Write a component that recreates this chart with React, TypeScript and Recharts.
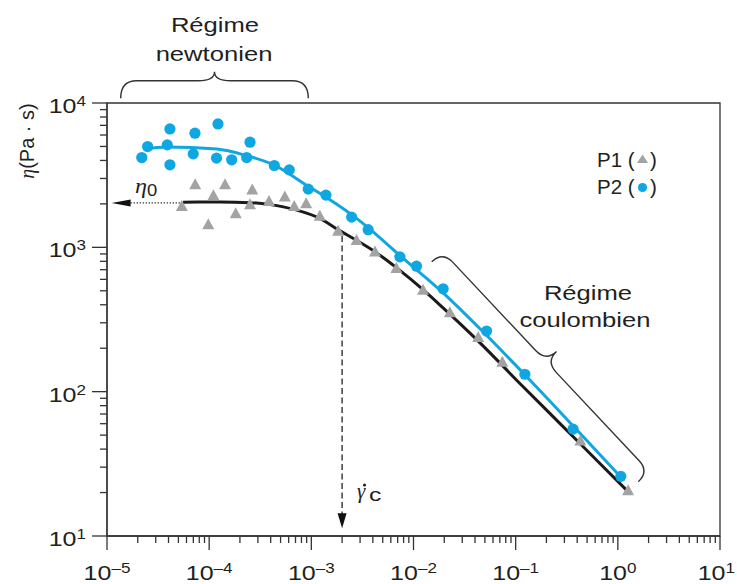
import {
  ComposedChart,
  Line,
  Scatter,
  XAxis,
  YAxis,
  ReferenceArea,
  ReferenceLine,
  ReferenceDot,
} from 'recharts'

// shear rate (s^-1) and viscosity (Pa·s)
const p1Rate = [
  5.4e-5, 7.3e-5, 1.1e-4, 9.8e-5, 1.43e-4, 1.82e-4, 2.64e-4, 2.51e-4, 3.85e-4, 5.5e-4, 6.8e-4, 8.9e-4,
  1.21e-3, 1.83e-3, 2.77e-3, 4.2e-3, 6.8e-3, 1.24e-2, 2.27e-2, 4.3e-2, 7.4e-2, 0.43, 1.26,
]
const p1Visc = [
  1920, 2710, 2280, 1435, 2710, 1710, 2500, 1970, 2080, 2230, 1920, 2005, 1640, 1290, 1117, 929, 713,
  505, 352, 237, 160, 45.6, 20.6,
]
const p2Rate = [
  2.19e-5, 2.5e-5, 4.13e-5, 3.89e-5, 4.13e-5, 7.26e-5, 6.98e-5, 1.22e-4, 1.18e-4, 1.66e-4, 2.51e-4,
  2.33e-4, 4.34e-4, 6.08e-4, 9.33e-4, 1.39e-3, 2.48e-3, 3.6e-3, 7.36e-3, 1.07e-2, 1.95e-2, 5.19e-2,
  0.123, 0.365, 1.07,
]
const p2Visc = [
  4190, 4990, 6610, 5130, 3730, 6180, 4440, 7160, 4150, 4040, 5350, 4190, 3690, 3440, 2530, 2300, 1620,
  1325, 859, 740, 516, 263, 132, 55, 25.9,
]

// fitted curves, traced point by point
const fitP1Rate = [
  5.55e-5, 1.28e-4, 2.51e-4, 3.94e-4, 6.92e-4, 1.22e-3, 1.82e-3, 2.8e-3, 4.4e-3, 6.9e-3, 1.24e-2, 1.82e-2,
  4.48e-2, 0.11, 0.272, 0.668, 1.26,
]
const fitP1Visc = [2056, 2061, 2040, 1977, 1824, 1581, 1327, 1113, 911, 718, 509, 398, 218, 114, 60.1, 31.8, 20.3]
const fitP2Rate = [
  2.27e-5, 3.84e-5, 1.19e-4, 2.33e-4, 4.25e-4, 9.33e-4, 1.52e-3, 2.48e-3, 3.69e-3, 7.38e-3, 1.96e-2,
  4.82e-2, 0.123, 0.366, 1.07,
]
const fitP2Visc = [4800, 4957, 4800, 4315, 3739, 2645, 2140, 1685, 1348, 876, 482, 259, 131, 57.8, 25.6]

const eta0 = 2030
const gammaC = 2e-3

const xMajor = [1e-5, 1e-4, 1e-3, 1e-2, 1e-1, 1, 10]
const xExp = ['–5', '–4', '–3', '–2', '–1', '0', '1']
const yMajor = [10, 100, 1000, 10000]
const yExp = ['1', '2', '3', '4']
const minorSteps = [2, 3, 4, 5, 6, 7, 8, 9]

const xTicks = [...xMajor, ...xMajor.slice(0, -1).flatMap((d) => minorSteps.map((m) => m * d))]
const yTicks = [...yMajor, ...yMajor.slice(0, -1).flatMap((d) => minorSteps.map((m) => m * d))]

const toPoints = (xs: number[], ys: number[]) => xs.map((x, i) => ({ x, y: ys[i] }))
const p1 = toPoints(p1Rate, p1Visc)
const p2 = toPoints(p2Rate, p2Visc)
const fitP1 = toPoints(fitP1Rate, fitP1Visc)
const fitP2 = toPoints(fitP2Rate, fitP2Visc)

const SANS = '"Liberation Sans", Arial, sans-serif'
const SERIF = '"Liberation Serif", "Times New Roman", serif'
const INK = '#231f20'
const AXIS = '#333'
const BLUE = '#0ea7e2'
const GREY = '#a3a3a3'

const majorIndex = (list: number[], v: number) => list.findIndex((m) => Math.abs(v / m - 1) < 1e-6)

// the original lettering is noticeably wider than Arial, so stretch it a bit
function Wide({ x, y, anchor = 'middle', size = 20.5, sx = 1.25, children }: any) {
  return (
    <g transform={`translate(${x},${y}) scale(${sx},1)`}>
      <text textAnchor={anchor} fontFamily={SANS} fontSize={size} fill={INK}>
        {children}
      </text>
    </g>
  )
}

function Pow({ x, y, exp, anchor }: any) {
  return (
    <Wide x={x} y={y} anchor={anchor} sx={1.22}>
      10
      <tspan fontSize={14} dy={-7}>
        {exp}
      </tspan>
    </Wide>
  )
}

function XTick({ x, y, payload }: any) {
  const i = majorIndex(xMajor, payload.value)
  // the last label would spill past the right edge, so pin it to the edge
  const last = i === xMajor.length - 1
  return (
    <g>
      <line x1={x} x2={x} y1={y} y2={y + (i >= 0 ? 14 : 7)} stroke={AXIS} strokeWidth={1.3} />
      {i >= 0 && (
        <Pow x={last ? 735 : x} y={y + 44} exp={xExp[i]} anchor={last ? 'end' : 'middle'} />
      )}
    </g>
  )
}

function YTick({ x, y, payload }: any) {
  const i = majorIndex(yMajor, payload.value)
  return (
    <g>
      <line x1={x - (i >= 0 ? 15 : 7)} x2={x} y1={y} y2={y} stroke={AXIS} strokeWidth={1.3} />
      {i >= 0 && <Pow x={x - 21} y={y + 10} exp={yExp[i]} anchor="end" />}
    </g>
  )
}

const Triangle = (p: any) => (
  <polygon points={`${p.cx},${p.cy - 6.5} ${p.cx + 6},${p.cy + 4.5} ${p.cx - 6},${p.cy + 4.5}`} fill={GREY} />
)
const Circle = (p: any) => <circle cx={p.cx} cy={p.cy} r={5.6} fill={BLUE} />

const LeftArrow = (p: any) => (
  <polygon points={`${p.cx},${p.cy} ${p.cx + 19},${p.cy - 3.5} ${p.cx + 19},${p.cy + 3.5}`} fill="#111" />
)
const DownArrow = (p: any) => (
  <polygon points={`${p.cx},${p.cy} ${p.cx - 4.5},${p.cy - 15} ${p.cx + 4.5},${p.cy - 15}`} fill="#111" />
)

// curly brace along the x axis of a local frame, bulging towards -y
function bracePath(len: number, h: number, tip: number) {
  const m = len / 2
  const r = Math.min(h, 16)
  return [
    `M0,0 Q0,${-h} ${r},${-h}`,
    `L${m - r},${-h} Q${m},${-h} ${m},${-tip}`,
    `Q${m},${-h} ${m + r},${-h}`,
    `L${len - r},${-h} Q${len},${-h} ${len},0`,
  ].join(' ')
}

export default function App() {
  return (
    <div style={{ position: 'absolute', left: 0, top: 0, width: 737, height: 584, background: '#fff' }}>
      <ComposedChart width={737} height={584} margin={{ top: 103, right: 17, bottom: 0, left: 0 }}>
        <XAxis
          dataKey="x"
          type="number"
          scale="log"
          domain={[1e-5, 10]}
          allowDataOverflow
          ticks={xTicks}
          interval={0}
          tick={(p: any) => <XTick {...p} />}
          tickLine={false}
          tickSize={0}
          tickMargin={0}
          height={48}
          axisLine={{ stroke: AXIS, strokeWidth: 1.3 }}
        />
        <YAxis
          dataKey="y"
          type="number"
          scale="log"
          domain={[10, 10000]}
          allowDataOverflow
          ticks={yTicks}
          interval={0}
          tick={(p: any) => <YTick {...p} />}
          tickLine={false}
          tickSize={0}
          tickMargin={0}
          width={107}
          axisLine={{ stroke: AXIS, strokeWidth: 1.3 }}
        />
        <ReferenceArea x1={1e-5} x2={10} y1={10} y2={10000} fill="none" stroke={AXIS} strokeWidth={1.3} />
        <ReferenceLine
          segment={[
            { x: 1.7e-5, y: eta0 },
            { x: 5.5e-5, y: eta0 },
          ]}
          stroke="#444"
          strokeWidth={1.3}
          strokeDasharray="1.5 1.5"
        />
        <ReferenceDot x={1.11e-5} y={eta0} shape={LeftArrow} />
        <ReferenceLine
          segment={[
            { x: gammaC, y: 1200 },
            { x: gammaC, y: 14 },
          ]}
          stroke="#222"
          strokeWidth={1.3}
          strokeDasharray="6 3.5"
        />
        <ReferenceDot x={gammaC} y={11.3} shape={DownArrow} />
        <Line data={fitP1} dataKey="y" type="monotone" stroke="#1a1a1a" strokeWidth={3} dot={false} isAnimationActive={false} />
        <Line data={fitP2} dataKey="y" type="monotone" stroke={BLUE} strokeWidth={3} dot={false} isAnimationActive={false} />
        <Scatter data={p1} shape={Triangle} isAnimationActive={false} />
        <Scatter data={p2} shape={Circle} isAnimationActive={false} />
      </ComposedChart>

      <svg width={737} height={584} style={{ position: 'absolute', left: 0, top: 0, pointerEvents: 'none' }}>
        {/* y axis title */}
        <g transform="translate(33.5,141) rotate(-90)">
          <text textAnchor="middle" fontFamily={SANS} fontSize={20} fill={INK}>
            <tspan fontFamily={SERIF} fontStyle="italic">
              η
            </tspan>
            (Pa · s)
          </text>
        </g>

        {/* Newtonian plateau */}
        <Wide x={215} y={32}>Régime</Wide>
        <Wide x={214} y={61}>newtonien</Wide>
        <g transform="translate(120.7,98.3)">
          <path d={bracePath(187.6, 17.5, 26.5)} fill="none" stroke={AXIS} strokeWidth={1.4} />
        </g>

        {/* power-law region */}
        <Wide x={588} y={300}>Régime</Wide>
        <Wide x={585} y={326.5}>coulombien</Wide>
        <g transform="translate(431.7,261.7) rotate(46.8)">
          <path d={bracePath(301.8, 15, 29.5)} fill="none" stroke={AXIS} strokeWidth={1.4} />
        </g>

        {/* eta_0 */}
        <g transform="translate(135,192.5) scale(1.15,1)">
          <text fontFamily={SERIF} fontSize={21} fontStyle="italic" fill={INK}>
            η
            <tspan fontFamily={SANS} fontStyle="normal" fontSize={16} dy={3}>
              0
            </tspan>
          </text>
        </g>

        {/* critical shear rate */}
        <text x={357} y={498} fontFamily={SERIF} fontSize={21} fontStyle="italic" fill={INK}>
          γ
        </text>
        <circle cx={364.5} cy={485} r={1.6} fill={INK} />
        <Wide x={369} y={501} anchor="start" size={19} sx={1.3}>
          c
        </Wide>

        {/* legend */}
        <text x={597} y={166.5} fontFamily={SANS} fontSize={20.5} fill={INK}>
          P1 (
        </text>
        <polygon points="642.5,154.5 648,163 637,163" fill={GREY} />
        <text x={650} y={166.5} fontFamily={SANS} fontSize={20.5} fill={INK}>
          )
        </text>
        <text x={597} y={193.5} fontFamily={SANS} fontSize={20.5} fill={INK}>
          P2 (
        </text>
        <circle cx={642.5} cy={187.5} r={4.6} fill={BLUE} />
        <text x={650} y={193.5} fontFamily={SANS} fontSize={20.5} fill={INK}>
          )
        </text>
      </svg>
    </div>
  )
}
